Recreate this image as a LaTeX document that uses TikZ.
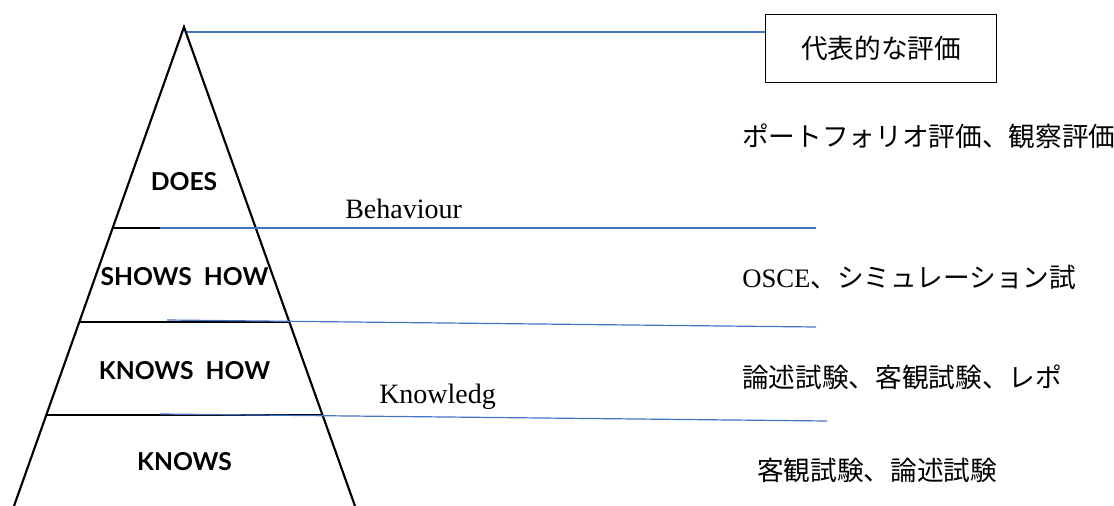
\documentclass[tikz,border=0pt]{standalone}
\usepackage{fontspec}
\setmainfont{Liberation Serif}
\newfontfamily\cjk{Noto Sans CJK JP}
\newfontfamily\labfont{Lato}
\definecolor{lineblue}{HTML}{4472C4}
\tikzset{
  lvl/.style={font=\labfont\bfseries\fontsize{18.5pt}{20pt}\selectfont, anchor=base, inner sep=0pt},
  jtext/.style={font=\cjk\fontsize{20pt}{22pt}\selectfont, anchor=base west, inner sep=0pt},
  etext/.style={font=\fontsize{21pt}{23pt}\selectfont, anchor=base west, inner sep=0pt},
  blueline/.style={draw=lineblue, line width=0.9pt},
  tier/.style={draw=black, line width=1.5pt},
  side/.style={draw=black, line width=1.6pt},
}
\begin{document}
\begin{tikzpicture}[x=0.75pt,y=-0.75pt]
\useasboundingbox (0,0) rectangle (1114,506);
\clip (0,0) rectangle (1114,506);
% pyramid
\coordinate (apex) at (184,27);
\coordinate (bl) at (14,506);
\coordinate (br) at (355,506);
\draw[side, line join=miter] (bl) -- (apex) -- (br);
% tier lines
\coordinate (t1l) at (113,228); \coordinate (t1r) at (257,228);
\coordinate (t2l) at (80,322);  \coordinate (t2r) at (290,322);
\coordinate (t3l) at (47,415);  \coordinate (t3r) at (322,415);
\draw[tier] (t1l) -- (t1r);
\draw[tier] (t2l) -- (t2r);
\draw[tier] (t3l) -- (t3r);
% level labels
\node[lvl] (does) at (184,191) {DOES};
\node[lvl] (shows) at (184.5,285) {SHOWS\ \ HOW};
\node[lvl] (knowshow) at (184.5,379) {KNOWS\ \ HOW};
\node[lvl] (knows) at (184.5,470) {KNOWS};
% box
\node[draw=black, line width=0.8pt, minimum width=231*0.75pt, minimum height=68*0.75pt, inner sep=0pt,
      font=\cjk\fontsize{20pt}{22pt}\selectfont] (head) at (881.3,48.5) {代表的な評価};
% blue lines
\coordinate (a0) at (187,32);
\draw[blueline] (a0) -- (head.west |- a0);
\coordinate (b1s) at (160,228); \coordinate (b1e) at (816,228);
\coordinate (b2s) at (167,320); \coordinate (b2e) at (816,327);
\coordinate (b3s) at (160,414); \coordinate (b3e) at (827,421);
\draw[blueline] (b1s) -- (b1e);
\draw[blueline] (b2s) -- (b2e);
\draw[blueline] (b3s) -- (b3e);
% english labels
\node[etext] (beh) at (345,219) {Behaviour};
\node[etext] (kno) at (379,403) {Knowledg};
% evaluations
\node[jtext] (e1) at (742,147) {ポートフォリオ評価、観察評価};
\node[jtext] (e2) at (742,287) {{\fontspec{Liberation Serif}OSCE}、シミュレーション試};
\node[jtext] (e3) at (742,387) {論述試験、客観試験、レポ};
\node[jtext] (e4) at (757,480) {客観試験、論述試験};
\end{tikzpicture}
\end{document}
